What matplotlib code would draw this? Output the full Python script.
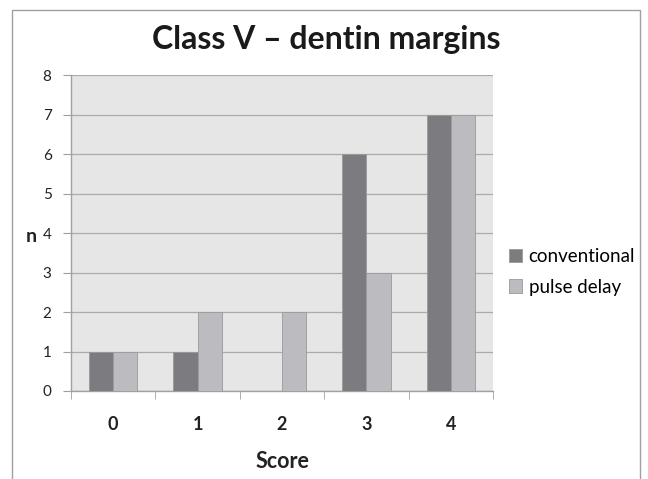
import matplotlib
matplotlib.use("Agg")
import matplotlib.pyplot as plt
import numpy as np
from matplotlib.patches import Rectangle

categories = ["0", "1", "2", "3", "4"]
conventional = [1, 1, 0, 6, 7]
pulse_delay = [1, 2, 2, 3, 7]
series_names = ["conventional", "pulse delay"]

plt.rcParams['font.family'] = ['Lato', 'DejaVu Sans']

W, H = 648, 479
fig = plt.figure(figsize=(W/100, H/100), dpi=100)
fig.patch.set_facecolor('white')

# outer frame
fig.add_artist(Rectangle((12/W, -0.05), (640-12)/W, (H-10)/H + 0.05, transform=fig.transFigure,
                         fill=False, edgecolor='#a0a0a0', linewidth=1.0))

left, right, top, bottom = 71, 493, 75, 391
ax = fig.add_axes([left/W, 1-bottom/H, (right-left)/W, (bottom-top)/H])
ax.set_facecolor('#e6e6e6')

x = np.arange(len(categories))
bw = 0.286
ax.bar(x - bw/2, conventional, width=bw, color='#7b7b80', edgecolor='#9a9a9a', linewidth=0.6,
       label=series_names[0], zorder=3)
ax.bar(x + bw/2, pulse_delay, width=bw, color='#bcbcc0', edgecolor='#9a9a9a', linewidth=0.6,
       label=series_names[1], zorder=3)

ax.set_xlim(-0.5, len(categories) - 0.5)
ax.set_ylim(0, 8)
ax.set_yticks(range(0, 9))
ax.yaxis.grid(True, color='#ababab', linewidth=0.9, zorder=0)
ax.set_axisbelow(True)

ax.set_xticks(x)
ax.set_xticklabels(categories, fontsize=13, fontweight='bold', color='#222222')
ax.set_xticks(np.arange(-0.5, len(categories), 1.0), minor=True)
ax.tick_params(axis='x', which='major', length=0, pad=18)
ax.tick_params(axis='x', which='minor', length=6, color='#a0a0a0', direction='out')
ax.tick_params(axis='y', length=6, color='#a0a0a0', labelsize=11, labelcolor='#222222', pad=8)

for s in ['top', 'right']:
    ax.spines[s].set_visible(False)
for s in ['left', 'bottom']:
    ax.spines[s].set_color('#a0a0a0')
    ax.spines[s].set_linewidth(1.0)

fig.text(282/W, 1-461/H, "Score", fontsize=15.5, fontweight='bold', color='#222222', ha='center', va='center')
fig.text(31/W, 1-236/H, "n", fontsize=14, fontweight='bold', color='#222222', ha='center', va='center')

fig.text(326/W, 1-40/H, "Class V \u2013 dentin margins", fontsize=23, fontweight='bold',
         color='#1a1a1a', ha='center', va='center')

leg = ax.legend(loc='center left', frameon=False, fontsize=13.5, handlelength=0.7, handleheight=0.7,
                handletextpad=0.35, labelspacing=0.7, borderaxespad=0, borderpad=0)
leg.set_bbox_to_anchor((509/W, 1-272/H), transform=fig.transFigure)

fig.savefig("out.png", dpi=100)
